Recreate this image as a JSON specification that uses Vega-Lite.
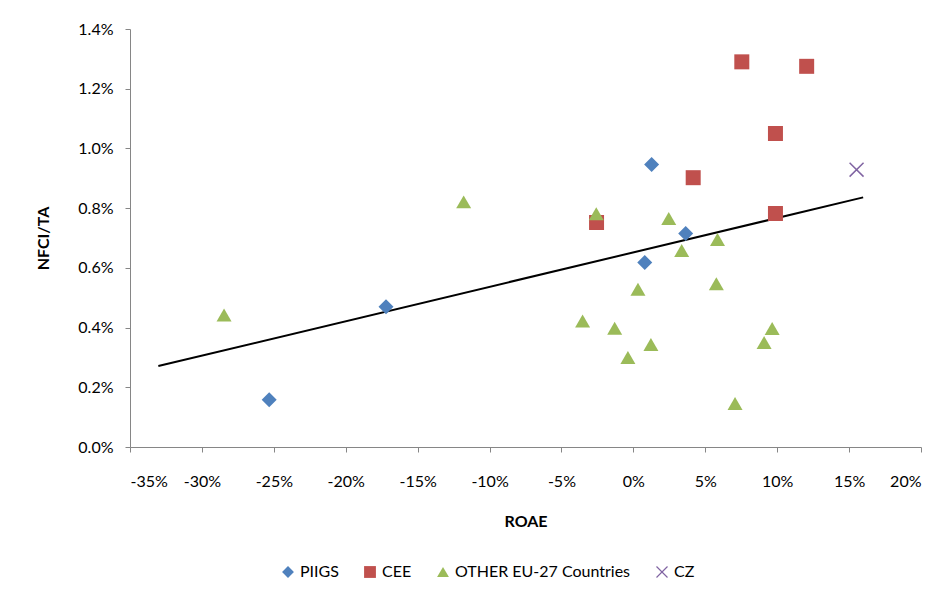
{
  "$schema": "https://vega.github.io/schema/vega-lite/v6.json",
  "width": 791,
  "height": 418,
  "autosize": {"type": "none"},
  "padding": {"left": 130, "top": 29, "right": 27, "bottom": 154},
  "background": "white",
  "config": {
    "font": "Lato",
    "view": {"stroke": null},
    "axis": {
      "grid": false,
      "domainColor": "#868686",
      "tickColor": "#868686",
      "tickSize": 5,
      "labelFont": "Lato",
      "labelFontSize": 16,
      "labelColor": "#000000",
      "titleFont": "Lato",
      "titleFontSize": 16,
      "titleFontWeight": "bold",
      "titleColor": "#000000"
    }
  },
  "datasets": {
    "pts": [
      {"group": "PIIGS", "roae": -0.2532, "nfci": 0.00158},
      {"group": "PIIGS", "roae": -0.1720, "nfci": 0.00470},
      {"group": "PIIGS", "roae": 0.0127, "nfci": 0.00946},
      {"group": "PIIGS", "roae": 0.0079, "nfci": 0.00618},
      {"group": "PIIGS", "roae": 0.0364, "nfci": 0.00715},
      {"group": "CEE", "roae": 0.0754, "nfci": 0.01290},
      {"group": "CEE", "roae": 0.1205, "nfci": 0.01275},
      {"group": "CEE", "roae": 0.0988, "nfci": 0.01050},
      {"group": "CEE", "roae": 0.0416, "nfci": 0.00902},
      {"group": "CEE", "roae": -0.0256, "nfci": 0.00752},
      {"group": "CEE", "roae": 0.0988, "nfci": 0.00782},
      {"group": "OTHER EU-27 Countries", "roae": -0.2846, "nfci": 0.00442},
      {"group": "OTHER EU-27 Countries", "roae": -0.1180, "nfci": 0.00821},
      {"group": "OTHER EU-27 Countries", "roae": -0.0258, "nfci": 0.00781},
      {"group": "OTHER EU-27 Countries", "roae": 0.0246, "nfci": 0.00765},
      {"group": "OTHER EU-27 Countries", "roae": 0.0585, "nfci": 0.00695},
      {"group": "OTHER EU-27 Countries", "roae": 0.0336, "nfci": 0.00658},
      {"group": "OTHER EU-27 Countries", "roae": 0.0032, "nfci": 0.00528},
      {"group": "OTHER EU-27 Countries", "roae": 0.0577, "nfci": 0.00547},
      {"group": "OTHER EU-27 Countries", "roae": -0.0353, "nfci": 0.00422},
      {"group": "OTHER EU-27 Countries", "roae": -0.0130, "nfci": 0.00398},
      {"group": "OTHER EU-27 Countries", "roae": 0.0122, "nfci": 0.00343},
      {"group": "OTHER EU-27 Countries", "roae": -0.0038, "nfci": 0.00300},
      {"group": "OTHER EU-27 Countries", "roae": 0.0965, "nfci": 0.00397},
      {"group": "OTHER EU-27 Countries", "roae": 0.0909, "nfci": 0.00350},
      {"group": "OTHER EU-27 Countries", "roae": 0.0707, "nfci": 0.00146},
      {"group": "CZ", "roae": 0.1552, "nfci": 0.00929}
    ],
    "trend": [
      {"roae": -0.3303, "nfci": 0.00271},
      {"roae": 0.1598, "nfci": 0.00836}
    ]
  },
  "layer": [
    {
      "data": {"name": "trend"},
      "mark": {"type": "line", "color": "#000000", "strokeWidth": 2},
      "encoding": {
        "x": {"field": "roae", "type": "quantitative"},
        "y": {"field": "nfci", "type": "quantitative"}
      }
    },
    {
      "data": {"name": "pts"},
      "mark": {"type": "point", "filled": true, "opacity": 1, "size": 225},
      "encoding": {
        "x": {
          "field": "roae", "type": "quantitative",
          "scale": {"domain": [-0.35, 0.2], "nice": false, "zero": false},
          "axis": {
            "title": "ROAE", "format": ".0%",
            "labelExpr": "replace(datum.label, '\u2212', '-')",
            "values": [-0.35, -0.3, -0.25, -0.2, -0.15, -0.1, -0.05, 0, 0.05, 0.1, 0.15, 0.2],
            "labelPadding": 21, "titlePadding": 24
          }
        },
        "y": {
          "field": "nfci", "type": "quantitative",
          "scale": {"domain": [0, 0.014], "nice": false},
          "axis": {
            "title": "NFCI/TA", "format": ".1%",
            "values": [0, 0.002, 0.004, 0.006, 0.008, 0.01, 0.012, 0.014],
            "labelPadding": 12, "titlePadding": 26
          }
        },
        "color": {
          "field": "group", "type": "nominal",
          "scale": {
            "domain": ["PIIGS", "CEE", "OTHER EU-27 Countries", "CZ"],
            "range": ["#4F81BD", "#C0504D", "#9BBB59", "#8064A2"]
          },
          "legend": {
            "title": null, "orient": "none", "direction": "horizontal",
            "legendX": 150, "legendY": 535,
            "labelFontSize": 16, "labelFont": "Lato", "labelColor": "#000000", "labelLimit": 0,
            "symbolSize": 140, "symbolOpacity": 1, "columnPadding": 23, "labelOffset": 4
          }
        },
        "shape": {
          "field": "group", "type": "nominal",
          "scale": {
            "domain": ["PIIGS", "CEE", "OTHER EU-27 Countries", "CZ"],
            "range": ["diamond", "square", "triangle-up", "M-1,-0.86L-0.86,-1L1,0.86L0.86,1Z M0.86,-1L1,-0.86L-0.86,1L-1,0.86Z"]
          },
          "legend": null
        }
      }
    }
  ]
}
